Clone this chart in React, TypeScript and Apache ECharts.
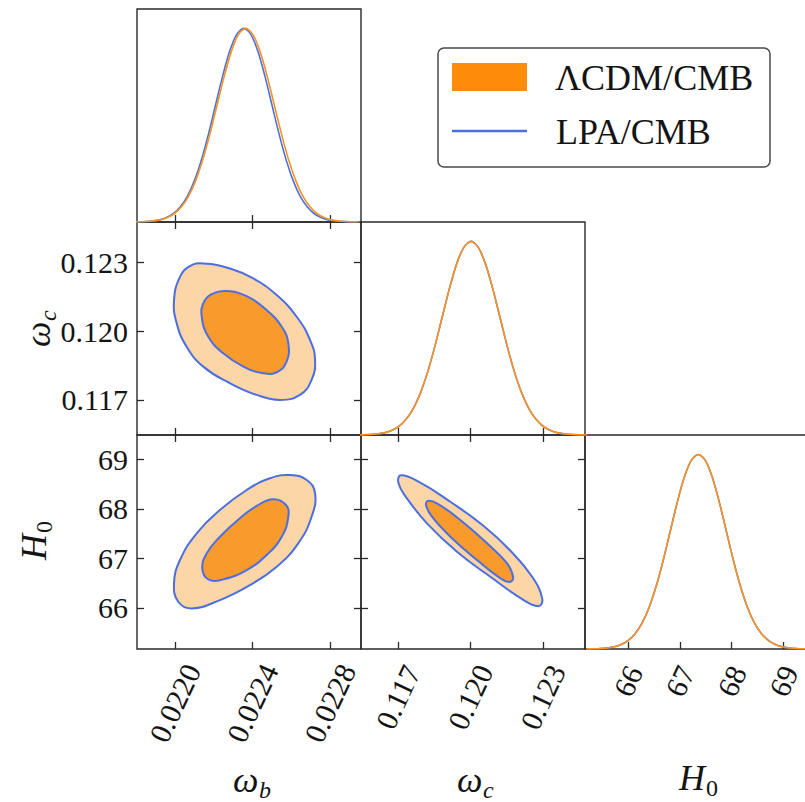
import React, { useEffect, useRef } from "react";
import * as echarts from "echarts";

type Pt = [number, number];

// Plot ranges of the three parameters
const omegaBRange: [number, number] = [0.021804, 0.02296];
const omegaCRange: [number, number] = [0.11547, 0.12475];
const h0Range: [number, number] = [65.17, 69.49];

// Tick values
const omegaBTicks = [0.022, 0.0224, 0.0228];
const omegaCTicks = [0.117, 0.12, 0.123];
const h0Ticks = [66, 67, 68, 69];

// Marginal posteriors: sample positions and normalised heights
const marginalHeights = [
  0.0003, 0.0009, 0.0022, 0.0051, 0.0111, 0.0228, 0.0439, 0.0796, 0.1353, 0.2163, 0.3247,
  0.4578, 0.6065, 0.7548, 0.8825, 0.9692, 1, 0.9692, 0.8825, 0.7548, 0.6065, 0.4578, 0.3247,
  0.2163, 0.1353, 0.0796, 0.0439, 0.0228, 0.0111, 0.0051, 0.0022, 0.0009, 0.0003,
];
const lcdmOmegaBX = [
  0.021777, 0.0218138, 0.0218505, 0.0218873, 0.021924, 0.0219608, 0.0219975, 0.0220343,
  0.022071, 0.0221078, 0.0221445, 0.0221813, 0.022218, 0.0222548, 0.0222915, 0.0223283,
  0.022365, 0.0224018, 0.0224385, 0.0224753, 0.022512, 0.0225488, 0.0225855, 0.0226223,
  0.022659, 0.0226958, 0.0227325, 0.0227693, 0.022806, 0.0228428, 0.0228795, 0.0229163,
  0.022953,
];
const lpaOmegaBX = [
  0.021775, 0.0218113, 0.0218475, 0.0218838, 0.02192, 0.0219563, 0.0219925, 0.0220288,
  0.022065, 0.0221013, 0.0221375, 0.0221738, 0.02221, 0.0222463, 0.0222825, 0.0223188,
  0.022355, 0.0223913, 0.0224275, 0.0224638, 0.0225, 0.0225363, 0.0225725, 0.0226088,
  0.022645, 0.0226813, 0.0227175, 0.0227538, 0.02279, 0.0228263, 0.0228625, 0.0228988,
  0.022935,
];
const omegaCX = [
  0.11523, 0.11553, 0.11583, 0.11613, 0.11643, 0.11673, 0.11703, 0.11733, 0.11763, 0.11793,
  0.11823, 0.11853, 0.11883, 0.11913, 0.11943, 0.11973, 0.12003, 0.12033, 0.12063, 0.12093,
  0.12123, 0.12153, 0.12183, 0.12213, 0.12243, 0.12273, 0.12303, 0.12333, 0.12363, 0.12393,
  0.12423, 0.12453, 0.12483,
];
const h0X = [
  65.195, 65.33, 65.465, 65.6, 65.735, 65.87, 66.005, 66.14, 66.275, 66.41, 66.545, 66.68,
  66.815, 66.95, 67.085, 67.22, 67.355, 67.49, 67.625, 67.76, 67.895, 68.03, 68.165, 68.3,
  68.435, 68.57, 68.705, 68.84, 68.975, 69.11, 69.245, 69.38, 69.515,
];

// 68% / 95% contours (omega_b, omega_c)
const bcOuter: Pt[] = [
  [0.022146, 0.122943], [0.022284, 0.122725], [0.022404, 0.12229], [0.022525, 0.121565],
  [0.022628, 0.120623], [0.022697, 0.119609], [0.022723, 0.118739], [0.022705, 0.11787],
  [0.022645, 0.117217], [0.022542, 0.117], [0.022421, 0.117217], [0.022284, 0.117725],
  [0.022146, 0.118449], [0.02206, 0.119319], [0.022009, 0.120333], [0.021995, 0.121348],
  [0.022026, 0.122362], [0.022077, 0.122826],
];
const bcInner: Pt[] = [
  [0.022267, 0.121739], [0.02237, 0.121522], [0.022473, 0.120913], [0.022551, 0.120187],
  [0.022585, 0.119465], [0.022576, 0.118665], [0.022525, 0.118204], [0.022456, 0.118161],
  [0.022353, 0.118449], [0.022249, 0.11903], [0.022172, 0.119753], [0.022138, 0.120623],
  [0.02215, 0.121275], [0.022198, 0.121638],
];
// (omega_b, H0)
const bhOuter: Pt[] = [
  [0.022594, 68.683], [0.02268, 68.582], [0.022723, 68.313], [0.022705, 67.84],
  [0.022636, 67.303], [0.022525, 66.83], [0.022387, 66.461], [0.022232, 66.158],
  [0.022086, 65.99], [0.022017, 66.123], [0.021995, 66.495], [0.022026, 66.966],
  [0.022112, 67.505], [0.022232, 67.976], [0.02237, 68.38], [0.02249, 68.616],
];
const bhInner: Pt[] = [
  [0.022507, 68.192], [0.022573, 68.077], [0.022585, 67.84], [0.022551, 67.436],
  [0.022473, 67.067], [0.02237, 66.764], [0.022249, 66.576], [0.022172, 66.576],
  [0.022141, 66.798], [0.022164, 67.101], [0.022232, 67.436], [0.022335, 67.808],
  [0.022421, 68.057],
];
// (omega_c, H0)
const chOuter: Pt[] = [
  [0.117125, 68.677], [0.117925, 68.527], [0.11917, 68.143], [0.120553, 67.653],
  [0.12166, 67.154], [0.12256, 66.628], [0.122975, 66.192], [0.122834, 66.036],
  [0.122211, 66.158], [0.12083, 66.628], [0.119447, 67.133], [0.118203, 67.707],
  [0.117373, 68.212], [0.117025, 68.515],
];
const chInner: Pt[] = [
  [0.118229, 68.158], [0.118617, 68.111], [0.119585, 67.774], [0.120691, 67.303],
  [0.121521, 66.899], [0.121771, 66.628], [0.12166, 66.527], [0.121314, 66.576],
  [0.120276, 66.966], [0.11917, 67.436], [0.11841, 67.84], [0.118174, 68.057],
];

const SERIF = "Liberation Serif";
const INK = "#141414";
const AXIS_COLOR = "#2a2a2a";
const LCDM_LINE = "#F7931E";
const LCDM_SWATCH = "#FD8C0A";
const LCDM_DARK = "#F99B2C";
const LCDM_LIGHT = "#FDD6A8";
const LPA_BLUE = "#4B6FE2";

const zip = (xs: number[], ys: number[]): Pt[] => xs.map((x, i) => [x, ys[i]]);

const tick = { show: true, inside: true, length: 7, lineStyle: { color: AXIS_COLOR, width: 1.3 } };

function valAxis(
  gridIndex: number,
  range: [number, number],
  ticks: number[],
  position: string,
  label?: Record<string, unknown>
) {
  return {
    type: "value",
    gridIndex,
    position,
    min: range[0],
    max: range[1],
    axisLine: { show: false },
    splitLine: { show: false },
    axisTick: { ...tick, customValues: ticks },
    axisLabel: label
      ? { customValues: ticks, color: INK, fontFamily: SERIF, fontSize: 30, ...label }
      : { show: false },
  };
}

const densityAxis = (gridIndex: number) => ({
  type: "value",
  gridIndex,
  min: 0,
  max: 1.1,
  show: false,
});

function marginal(pts: Pt[], xi: number, yi: number, color: string, z: number) {
  return {
    type: "line",
    xAxisIndex: xi,
    yAxisIndex: yi,
    data: pts,
    smooth: 0.3,
    showSymbol: false,
    silent: true,
    clip: true,
    z,
    lineStyle: { color, width: 1.6 },
  };
}

function contour(pts: Pt[], xi: number, yi: number, style: Record<string, unknown>, z: number) {
  return {
    type: "custom",
    coordinateSystem: "cartesian2d",
    xAxisIndex: xi,
    yAxisIndex: yi,
    data: pts,
    silent: true,
    clip: true,
    z,
    renderItem: (params: any, api: any) => {
      if (params.dataIndex !== 0) return null;
      return {
        type: "polygon",
        shape: { points: pts.map((p) => api.coord(p)), smooth: 0.45 },
        style,
      };
    },
  };
}

const fmt = (d: number) => (v: number) => v.toFixed(d);

function subscripted(x: number, y: number, main: string, sub: string, mainW: number, rot = 0) {
  return {
    type: "group",
    x,
    y,
    rotation: rot,
    children: [
      {
        type: "text",
        x: 0,
        y: 0,
        style: {
          text: main,
          fill: INK,
          fontFamily: SERIF,
          fontStyle: "italic",
          fontSize: 36,
          align: "left",
          verticalAlign: "middle",
        },
      },
      {
        type: "text",
        x: mainW,
        y: 10,
        style: {
          text: sub,
          fill: INK,
          fontFamily: SERIF,
          fontStyle: sub === "0" ? "normal" : "italic",
          fontSize: 24,
          align: "left",
          verticalAlign: "middle",
        },
      },
    ],
  };
}

export default function App() {
  const ref = useRef<HTMLDivElement>(null);

  useEffect(() => {
    if (!ref.current) return;
    const chart = echarts.init(ref.current, null, { renderer: "svg" });

    const box = { show: true, borderColor: AXIS_COLOR, borderWidth: 1.4, backgroundColor: "transparent", outerBoundsMode: "none" };
    const colL = 137, colW = 224;
    const grid = [
      { ...box, left: colL, top: 9, width: colW, height: 213 },
      { ...box, left: colL, top: 222, width: colW, height: 213 },
      { ...box, left: colL + colW, top: 222, width: colW, height: 213 },
      { ...box, left: colL, top: 435, width: colW, height: 214 },
      { ...box, left: colL + colW, top: 435, width: colW, height: 214 },
      { ...box, left: colL + 2 * colW, top: 435, width: colW, height: 214 },
    ];

    const bottomRot = { rotate: 65, align: "center", verticalAlign: "middle" };
    const xAxis = [
      valAxis(0, omegaBRange, omegaBTicks, "bottom"),
      valAxis(1, omegaBRange, omegaBTicks, "bottom"),
      valAxis(1, omegaBRange, omegaBTicks, "top"),
      valAxis(2, omegaCRange, omegaCTicks, "bottom"),
      valAxis(3, omegaBRange, omegaBTicks, "bottom", { ...bottomRot, margin: 54, formatter: fmt(4) }),
      valAxis(3, omegaBRange, omegaBTicks, "top"),
      valAxis(4, omegaCRange, omegaCTicks, "bottom", { ...bottomRot, margin: 48, formatter: fmt(3) }),
      valAxis(4, omegaCRange, omegaCTicks, "top"),
      valAxis(5, h0Range, h0Ticks, "bottom", { ...bottomRot, margin: 32, formatter: fmt(0) }),
    ];
    const yAxis = [
      densityAxis(0),
      valAxis(1, omegaCRange, omegaCTicks, "left", { margin: 9, formatter: fmt(3) }),
      valAxis(1, omegaCRange, omegaCTicks, "right"),
      densityAxis(2),
      valAxis(3, h0Range, h0Ticks, "left", { margin: 9, formatter: fmt(0) }),
      valAxis(3, h0Range, h0Ticks, "right"),
      valAxis(4, h0Range, h0Ticks, "left"),
      valAxis(4, h0Range, h0Ticks, "right"),
      densityAxis(5),
    ];

    const outerFill = { fill: LCDM_LIGHT, stroke: "#F6B46E", lineWidth: 0.8 };
    const innerFill = { fill: LCDM_DARK, stroke: "none" };
    const lpaEdge = { fill: "none", stroke: LPA_BLUE, lineWidth: 2 };

    const series = [
      // 1D marginals: LPA/CMB underneath, ΛCDM/CMB on top
      marginal(zip(lpaOmegaBX, marginalHeights), 0, 0, LPA_BLUE, 3),
      marginal(zip(lcdmOmegaBX, marginalHeights), 0, 0, LCDM_LINE, 4),
      marginal(zip(omegaCX, marginalHeights), 3, 3, LPA_BLUE, 3),
      marginal(zip(omegaCX, marginalHeights), 3, 3, LCDM_LINE, 4),
      marginal(zip(h0X, marginalHeights), 8, 8, LPA_BLUE, 3),
      marginal(zip(h0X, marginalHeights), 8, 8, LCDM_LINE, 4),
      // 2D: ΛCDM/CMB filled, LPA/CMB outlined (the two sets of contours coincide)
      contour(bcOuter, 1, 1, outerFill, 2),
      contour(bcInner, 1, 1, innerFill, 3),
      contour(bcOuter, 1, 1, lpaEdge, 5),
      contour(bcInner, 1, 1, lpaEdge, 5),
      contour(bhOuter, 4, 4, outerFill, 2),
      contour(bhInner, 4, 4, innerFill, 3),
      contour(bhOuter, 4, 4, lpaEdge, 5),
      contour(bhInner, 4, 4, lpaEdge, 5),
      contour(chOuter, 6, 6, outerFill, 2),
      contour(chInner, 6, 6, innerFill, 3),
      contour(chOuter, 6, 6, lpaEdge, 5),
      contour(chInner, 6, 6, lpaEdge, 5),
    ];

    const graphic = [
      // legend
      {
        type: "rect",
        shape: { x: 438, y: 48, width: 332, height: 119, r: 6 },
        style: { fill: "#fff", stroke: "#4a4a4a", lineWidth: 1.5 },
      },
      {
        type: "rect",
        shape: { x: 452, y: 63, width: 75, height: 28 },
        style: { fill: LCDM_SWATCH },
      },
      {
        type: "line",
        shape: { x1: 452, y1: 131, x2: 527, y2: 131 },
        style: { stroke: LPA_BLUE, lineWidth: 2.5 },
      },
      {
        type: "text",
        x: 555,
        y: 78,
        style: { text: "ΛCDM/CMB", fill: INK, fontFamily: SERIF, fontSize: 36, align: "left", verticalAlign: "middle" },
      },
      {
        type: "text",
        x: 556,
        y: 132,
        style: { text: "LPA/CMB", fill: INK, fontFamily: SERIF, fontSize: 36, align: "left", verticalAlign: "middle" },
      },
      // axis titles
      subscripted(233, 780, "ω", "b", 26),
      subscripted(457, 780, "ω", "c", 26),
      subscripted(679, 778, "H", "0", 27),
      subscripted(38, 347, "ω", "c", 26, Math.PI / 2),
      subscripted(34, 560, "H", "0", 27, Math.PI / 2),
    ];

    chart.setOption({
      animation: false,
      backgroundColor: "#ffffff",
      grid,
      xAxis,
      yAxis,
      series,
      graphic,
    });

    return () => chart.dispose();
  }, []);

  return (
    <div
      ref={ref}
      style={{ position: "absolute", left: 0, top: 0, width: 805, height: 802 }}
    />
  );
}
